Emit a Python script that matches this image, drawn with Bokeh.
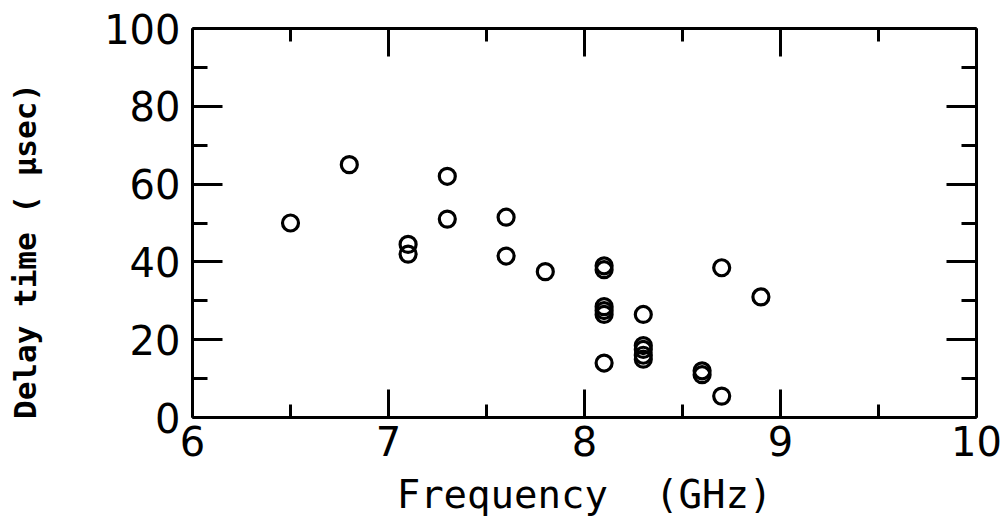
from bokeh.plotting import figure
from bokeh.models import Range1d, FixedTicker, LinearAxis, CustomJSTickFormatter
from bokeh.embed import file_html
from bokeh.resources import INLINE

# Data
freq = [6.5, 6.8, 7.1, 7.1, 7.3, 7.3, 7.6, 7.6, 7.8,
        8.1, 8.1, 8.1, 8.1, 8.1, 8.1,
        8.3, 8.3, 8.3, 8.3, 8.3,
        8.6, 8.6, 8.7, 8.7, 8.9]
delay = [50, 65, 44.5, 42, 62, 51, 51.5, 41.5, 37.5,
         39, 38, 28.5, 27.5, 26.5, 14,
         26.5, 18.5, 17.5, 16, 15,
         12, 11, 38.5, 5.5, 31]

x_major = [6, 7, 8, 9, 10]
x_minor = [6.5, 7.5, 8.5, 9.5]
y_major = [0, 20, 40, 60, 80, 100]
y_minor = [10, 30, 50, 70, 90]

x_label = "Frequency \u00a0(GHz)"
y_label = "Delay time ( \u03bcsec)" + "\u00a0" * 3

p = figure(width=1007, height=525, output_backend="svg", toolbar_location=None,
           x_range=Range1d(6, 10), y_range=Range1d(0, 100),
           min_border_left=192, min_border_right=31, min_border_top=28, min_border_bottom=108)
p.background_fill_color = "white"
p.border_fill_color = "white"
p.outline_line_color = None
p.grid.visible = False

p.scatter(freq, delay, marker="circle", size=16, fill_color=None,
          line_color="black", line_width=3.2)

xt = FixedTicker(ticks=x_major, minor_ticks=x_minor)
yt = FixedTicker(ticks=y_major, minor_ticks=y_minor)

def style(ax, major_len, minor_len):
    ax.axis_line_color = "black"
    ax.axis_line_width = 3
    ax.major_tick_line_color = "black"
    ax.major_tick_line_width = 3
    ax.minor_tick_line_color = "black"
    ax.minor_tick_line_width = 3
    ax.major_tick_in = major_len
    ax.major_tick_out = 0
    ax.minor_tick_in = minor_len
    ax.minor_tick_out = 0

xa = p.xaxis[0]
xa.ticker = xt
style(xa, 28, 13)
xa.major_label_text_font = "DejaVu Sans"
xa.major_label_text_font_size = "40px"
xa.major_label_text_color = "black"
xa.major_label_standoff = 8
xa.axis_label = x_label
xa.axis_label_text_font = "DejaVu Sans Mono"
xa.axis_label_text_font_size = "39px"
xa.axis_label_text_font_style = "normal"
xa.axis_label_text_color = "black"
xa.axis_label_standoff = 13

ya = p.yaxis[0]
ya.ticker = yt
style(ya, 30, 15)
ya.major_label_text_font = "DejaVu Sans"
ya.major_label_text_font_size = "40px"
ya.major_label_text_color = "black"
ya.major_label_standoff = 12
ya.axis_label = y_label
ya.axis_label_text_font = "DejaVu Sans Mono"
ya.axis_label_text_font_size = "31px"
ya.axis_label_text_font_style = "bold"
ya.axis_label_text_color = "black"
ya.axis_label_standoff = 58

empty = CustomJSTickFormatter(code="return ''")
top = LinearAxis(ticker=FixedTicker(ticks=x_major, minor_ticks=x_minor), formatter=empty)
style(top, 28, 13)
top.major_label_standoff = 0
right = LinearAxis(ticker=FixedTicker(ticks=y_major, minor_ticks=y_minor), formatter=empty)
style(right, 30, 15)
right.major_label_standoff = 0
p.add_layout(top, "above")
p.add_layout(right, "right")

open("out.html", "w").write(file_html(p, INLINE))
